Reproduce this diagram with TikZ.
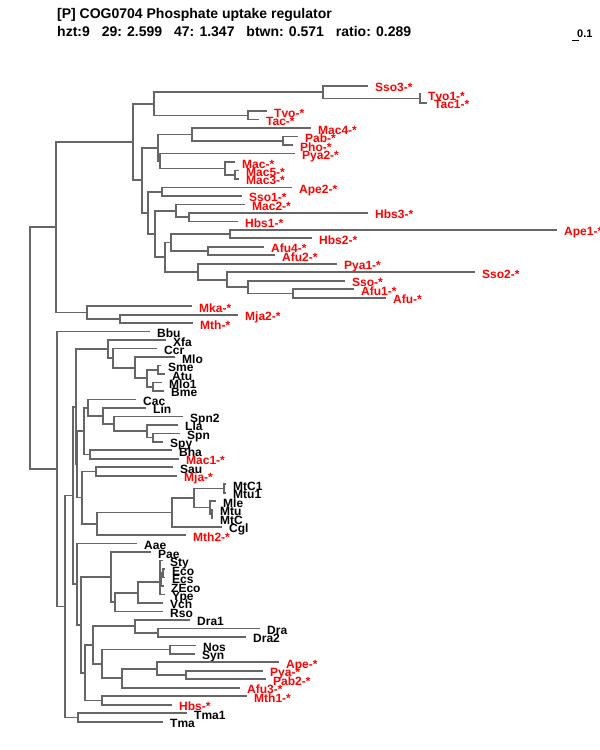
\documentclass[tikz,border=0pt]{standalone}
\usepackage{fontspec}
\setmainfont{Liberation Sans}
\usepackage{tikz}
\usetikzlibrary{positioning}

\tikzset{
	branch/.style={draw=black!60,line width=1.7pt},
	lab/.style={inner sep=0pt,text height=8.6pt,text depth=0pt,font=\fontsize{12}{12}\selectfont\bfseries,yshift=-1.7pt},
	arch/.style={lab,text=red},
	bact/.style={lab,text=black},
	head/.style={inner sep=0pt,anchor=base west,font=\fontsize{14}{14}\selectfont\bfseries},
}

\begin{document}
\begin{tikzpicture}[x=1pt,y=-1pt]
	\useasboundingbox (0,0) rectangle (600,750);
	
	% header
	\node[head] (ttl) at (57,18) {[P] COG0704 Phosphate uptake regulator};
	\node[head] (hzt) at (57,36) {hzt:9};
	\node[head,right=11.5pt of hzt.base east,anchor=base west] (c29) {29: 2.599};
	\node[head,right=11.5pt of c29.base east,anchor=base west] (c47) {47: 1.347};
	\node[head,right=11.5pt of c47.base east,anchor=base west] (btw) {btwn: 0.571};
	\node[head,right=11.5pt of btw.base east,anchor=base west] (rat) {ratio: 0.289};
	
	% scale
	\node[inner sep=0pt,anchor=base west,font=\fontsize{11}{11}\selectfont\bfseries] (sc) at (577,37) {0.1};
	\coordinate (sb0) at (572,40);
	\coordinate (sb1) at (579,40);
	\draw[line width=1pt] (sb0) -- (sb1);
	
	\begin{scope}[yshift=-85.7pt,y=-8.48pt]
		% leaves: tip at (x,row)
		\coordinate (sso3) at (368,0);   \node[arch,right=7pt of sso3] (Lsso3) {Sso3-*};
		\coordinate (tvo1) at (421,1);   \node[arch,right=7pt of tvo1] (Ltvo1) {Tvo1-*};
		\coordinate (tac1) at (427,2);   \node[arch,right=7pt of tac1] (Ltac1) {Tac1-*};
		\coordinate (tvo) at (267,3);    \node[arch,right=7pt of tvo] (Ltvo) {Tvo-*};
		\coordinate (tac) at (259,4);    \node[arch,right=7pt of tac] (Ltac) {Tac-*};
		\coordinate (mac4) at (311,5);   \node[arch,right=7pt of mac4] (Lmac4) {Mac4-*};
		\coordinate (pab) at (298,6);    \node[arch,right=7pt of pab] (Lpab) {Pab-*};
		\coordinate (pho) at (293,7);    \node[arch,right=7pt of pho] (Lpho) {Pho-*};
		\coordinate (pya2) at (295,8);   \node[arch,right=7pt of pya2] (Lpya2) {Pya2-*};
		\coordinate (mac) at (235,9);    \node[arch,right=7pt of mac] (Lmac) {Mac-*};
		\coordinate (mac5) at (239,10);  \node[arch,right=7pt of mac5] (Lmac5) {Mac5-*};
		\coordinate (mac3) at (239,11);  \node[arch,right=7pt of mac3] (Lmac3) {Mac3-*};
		\coordinate (ape2) at (292,12);  \node[arch,right=7pt of ape2] (Lape2) {Ape2-*};
		\coordinate (sso1) at (242,13);  \node[arch,right=7pt of sso1] (Lsso1) {Sso1-*};
		\coordinate (mac2) at (245,14);  \node[arch,right=7pt of mac2] (Lmac2) {Mac2-*};
		\coordinate (hbs3) at (368,15);  \node[arch,right=7pt of hbs3] (Lhbs3) {Hbs3-*};
		\coordinate (hbs1) at (238,16);  \node[arch,right=7pt of hbs1] (Lhbs1) {Hbs1-*};
		\coordinate (ape1) at (557,17);  \node[arch,right=7pt of ape1] (Lape1) {Ape1-*};
		\coordinate (hbs2) at (312,18);  \node[arch,right=7pt of hbs2] (Lhbs2) {Hbs2-*};
		\coordinate (afu4) at (264,19);  \node[arch,right=7pt of afu4] (Lafu4) {Afu4-*};
		\coordinate (afu2) at (275,20);  \node[arch,right=7pt of afu2] (Lafu2) {Afu2-*};
		\coordinate (pya1) at (337,21);  \node[arch,right=7pt of pya1] (Lpya1) {Pya1-*};
		\coordinate (sso2) at (475,22);  \node[arch,right=7pt of sso2] (Lsso2) {Sso2-*};
		\coordinate (sso) at (345,23);   \node[arch,right=7pt of sso] (Lsso) {Sso-*};
		\coordinate (afu1) at (354,24);  \node[arch,right=7pt of afu1] (Lafu1) {Afu1-*};
		\coordinate (afu) at (386,25);   \node[arch,right=7pt of afu] (Lafu) {Afu-*};
		\coordinate (mka) at (192,26);   \node[arch,right=7pt of mka] (Lmka) {Mka-*};
		\coordinate (mja2) at (238,27);  \node[arch,right=7pt of mja2] (Lmja2) {Mja2-*};
		\coordinate (mth) at (193,28);   \node[arch,right=7pt of mth] (Lmth) {Mth-*};
		\coordinate (bbu) at (150,29);   \node[bact,right=7pt of bbu] (Lbbu) {Bbu};
		\coordinate (xfa) at (166,30);   \node[bact,right=7pt of xfa] (Lxfa) {Xfa};
		\coordinate (ccr) at (157,31);   \node[bact,right=7pt of ccr] (Lccr) {Ccr};
		\coordinate (mlo) at (175,32);   \node[bact,right=7pt of mlo] (Lmlo) {Mlo};
		\coordinate (sme) at (161,33);   \node[bact,right=7pt of sme] (Lsme) {Sme};
		\coordinate (atu) at (165,34);   \node[bact,right=7pt of atu] (Latu) {Atu};
		\coordinate (mlo1) at (162,35);  \node[bact,right=7pt of mlo1] (Lmlo1) {Mlo1};
		\coordinate (bme) at (164,36);   \node[bact,right=7pt of bme] (Lbme) {Bme};
		\coordinate (cac) at (136,37);   \node[bact,right=7pt of cac] (Lcac) {Cac};
		\coordinate (lin) at (146,38);   \node[bact,right=7pt of lin] (Llin) {Lin};
		\coordinate (spn2) at (183,39);  \node[bact,right=7pt of spn2] (Lspn2) {Spn2};
		\coordinate (lla) at (178,40);   \node[bact,right=7pt of lla] (Llla) {Lla};
		\coordinate (spn) at (180,41);   \node[bact,right=7pt of spn] (Lspn) {Spn};
		\coordinate (spy) at (163,42);   \node[bact,right=7pt of spy] (Lspy) {Spy};
		\coordinate (bha) at (172,43);   \node[bact,right=7pt of bha] (Lbha) {Bha};
		\coordinate (mac1) at (179,44);  \node[arch,right=7pt of mac1] (Lmac1) {Mac1-*};
		\coordinate (sau) at (173,45);   \node[bact,right=7pt of sau] (Lsau) {Sau};
		\coordinate (mja) at (177,46);   \node[arch,right=7pt of mja] (Lmja) {Mja-*};
		\coordinate (mtc1) at (226,47);  \node[bact,right=7pt of mtc1] (Lmtc1) {MtC1};
		\coordinate (mtu1) at (226,48);  \node[bact,right=7pt of mtu1] (Lmtu1) {Mtu1};
		\coordinate (mle) at (216,49);   \node[bact,right=7pt of mle] (Lmle) {Mle};
		\coordinate (mtu) at (213,50);   \node[bact,right=7pt of mtu] (Lmtu) {Mtu};
		\coordinate (mtc) at (213,51);   \node[bact,right=7pt of mtc] (Lmtc) {MtC};
		\coordinate (cgl) at (222,52);   \node[bact,right=7pt of cgl] (Lcgl) {Cgl};
		\coordinate (mth2) at (186,53);  \node[arch,right=7pt of mth2] (Lmth2) {Mth2-*};
		\coordinate (aae) at (137,54);   \node[bact,right=7pt of aae] (Laae) {Aae};
		\coordinate (pae) at (151,55);   \node[bact,right=7pt of pae] (Lpae) {Pae};
		\coordinate (sty) at (163,56);   \node[bact,right=7pt of sty] (Lsty) {Sty};
		\coordinate (eco) at (165,57);   \node[bact,right=7pt of eco] (Leco) {Eco};
		\coordinate (ecs) at (165,58);   \node[bact,right=7pt of ecs] (Lecs) {Ecs};
		\coordinate (zeco) at (164,59);  \node[bact,right=7pt of zeco] (Lzeco) {ZEco};
		\coordinate (ype) at (165,60);   \node[bact,right=7pt of ype] (Lype) {Ype};
		\coordinate (vch) at (163,61);   \node[bact,right=7pt of vch] (Lvch) {Vch};
		\coordinate (rso) at (163,62);   \node[bact,right=7pt of rso] (Lrso) {Rso};
		\coordinate (dra1) at (190,63);  \node[bact,right=7pt of dra1] (Ldra1) {Dra1};
		\coordinate (dra) at (260,64);   \node[bact,right=7pt of dra] (Ldra) {Dra};
		\coordinate (dra2) at (246,65);  \node[bact,right=7pt of dra2] (Ldra2) {Dra2};
		\coordinate (nos) at (196,66);   \node[bact,right=7pt of nos] (Lnos) {Nos};
		\coordinate (syn) at (195,67);   \node[bact,right=7pt of syn] (Lsyn) {Syn};
		\coordinate (ape) at (279,68);   \node[arch,right=7pt of ape] (Lape) {Ape-*};
		\coordinate (pya) at (263,69);   \node[arch,right=7pt of pya] (Lpya) {Pya-*};
		\coordinate (pab2) at (266,70);  \node[arch,right=7pt of pab2] (Lpab2) {Pab2-*};
		\coordinate (afu3) at (240,71);  \node[arch,right=7pt of afu3] (Lafu3) {Afu3-*};
		\coordinate (mth1) at (247,72);  \node[arch,right=7pt of mth1] (Lmth1) {Mth1-*};
		\coordinate (hbs) at (172,73);   \node[arch,right=7pt of hbs] (Lhbs) {Hbs-*};
		\coordinate (tma1) at (187,74);  \node[bact,right=7pt of tma1] (Ltma1) {Tma1};
		\coordinate (tma) at (163,75);   \node[bact,right=7pt of tma] (Ltma) {Tma};
		
		% inner nodes of the archaeal part
		\coordinate (root) at (30,30.95);
		\coordinate (up) at (56,16.694);
		\coordinate (mk) at (86.7,26.75);
		\coordinate (mjth) at (120,27.5);
		\coordinate (d) at (133.3,6.639);
		\coordinate (t) at (154,2.125);
		\coordinate (s3) at (323,0.75);
		\coordinate (tt1) at (420,1.5);
		\coordinate (tt) at (248,3.5);
		\coordinate (c) at (141.7,11.152);
		\coordinate (a) at (158.3,7.3125);
		\coordinate (a1) at (191.7,5.75);
		\coordinate (pp) at (283.3,6.5);
		\coordinate (b) at (160,8.875);
		\coordinate (mm) at (225,9.75);
		\coordinate (mm2) at (235,10.5);
		\coordinate (e) at (148.3,14.992);
		\coordinate (as) at (161.7,12.5);
		\coordinate (f) at (155,17.484);
		\coordinate (f1) at (175.7,14.75);
		\coordinate (hh) at (189,15.5);
		\coordinate (g) at (165,20.219);
		\coordinate (h) at (171,18.5);
		\coordinate (ah) at (230,17.5);
		\coordinate (aa) at (208.3,19.5);
		\coordinate (i) at (198.3,21.938);
		\coordinate (j) at (227.3,22.875);
		\coordinate (k) at (248.3,23.75);
		\coordinate (l) at (293.3,24.5);
		
		% inner nodes of the lower part
		\coordinate (p) at (56.7,45.21);
		\coordinate (n1) at (65,61.41);
		\coordinate (tm) at (78.3,74.5);
		\coordinate (x) at (73.3,48.327);
		\coordinate (al) at (76,37.859);
		\coordinate (xc) at (107.7,31.063);
		\coordinate (cm) at (112.7,32.125);
		\coordinate (ml) at (135,33.25);
		\coordinate (sm) at (146.7,34.5);
		\coordinate (sa) at (158.3,33.5);
		\coordinate (mb) at (152.7,35.5);
		\coordinate (w) at (77.3,44.656);
		\coordinate (fb) at (84,40.734);
		\coordinate (cl) at (88.3,37.969);
		\coordinate (lsl) at (102.7,38.938);
		\coordinate (sl) at (114.3,39.875);
		\coordinate (ls) at (146.7,40.75);
		\coordinate (ss) at (152.7,41.5);
		\coordinate (bm) at (90,43.5);
		\coordinate (sam) at (81.7,48.578);
		\coordinate (sm2) at (96,45.5);
		\coordinate (am) at (97.3,51.656);
		\coordinate (act) at (171.7,50.313);
		\coordinate (mt) at (194,48.625);
		\coordinate (mtb) at (224,47.5);
		\coordinate (mlm) at (210,49.75);
		\coordinate (mm3) at (211.7,50.5);
		\coordinate (y2) at (77.3,58.795);
		\coordinate (z) at (80.7,63.59);
		\coordinate (q) at (110.7,57.945);
		\coordinate (r) at (115,60.891);
		\coordinate (v) at (138.3,59.781);
		\coordinate (en) at (160,58.563);
		\coordinate (en1) at (160,57.125);
		\coordinate (e2) at (161.5,58.25);
		\coordinate (e3) at (163,57.5);
		\coordinate (dm) at (85,69.234);
		\coordinate (dn) at (92.7,65.969);
		\coordinate (d1) at (135,63.75);
		\coordinate (dd) at (158.3,64.5);
		\coordinate (na) at (101.7,68.188);
		\coordinate (ns) at (170,66.5);
		\coordinate (af) at (121.7,69.875);
		\coordinate (ap) at (156.7,68.75);
		\coordinate (pp2) at (186,69.5);
		\coordinate (mh) at (101.7,72.5);
		
		% branches
		\draw[branch] (root) |- (up) (root) |- (p);
		\draw[branch] (up) |- (d) (up) |- (mk);
		\draw[branch] (mk) |- (mka) (mk) |- (mjth);
		\draw[branch] (mjth) |- (mja2) (mjth) |- (mth);
		\draw[branch] (d) |- (t) (d) |- (c);
		\draw[branch] (t) |- (s3) (t) |- (tt);
		\draw[branch] (s3) |- (sso3) (s3) |- (tt1);
		\draw[branch] (tt1) |- (tvo1) (tt1) |- (tac1);
		\draw[branch] (tt) |- (tvo) (tt) |- (tac);
		\draw[branch] (c) |- (a) (c) |- (e);
		\draw[branch] (a) |- (a1) (a) |- (b);
		\draw[branch] (a1) |- (mac4) (a1) |- (pp);
		\draw[branch] (pp) |- (pab) (pp) |- (pho);
		\draw[branch] (b) |- (pya2) (b) |- (mm);
		\draw[branch] (mm) |- (mac) (mm) |- (mm2);
		\draw[branch] (mm2) |- (mac5) (mm2) |- (mac3);
		\draw[branch] (e) |- (as) (e) |- (f);
		\draw[branch] (as) |- (ape2) (as) |- (sso1);
		\draw[branch] (f) |- (f1) (f) |- (g);
		\draw[branch] (f1) |- (mac2) (f1) |- (hh);
		\draw[branch] (hh) |- (hbs3) (hh) |- (hbs1);
		\draw[branch] (g) |- (h) (g) |- (i);
		\draw[branch] (h) |- (ah) (h) |- (aa);
		\draw[branch] (ah) |- (ape1) (ah) |- (hbs2);
		\draw[branch] (aa) |- (afu4) (aa) |- (afu2);
		\draw[branch] (i) |- (pya1) (i) |- (j);
		\draw[branch] (j) |- (sso2) (j) |- (k);
		\draw[branch] (k) |- (sso) (k) |- (l);
		\draw[branch] (l) |- (afu1) (l) |- (afu);
		
		\draw[branch] (p) |- (bbu) (p) |- (n1);
		\draw[branch] (n1) |- (x) (n1) |- (tm);
		\draw[branch] (tm) |- (tma1) (tm) |- (tma);
		\draw[branch] (x) |- (al) (x) |- (y2);
		\draw[branch] (al) |- (xc) (al) |- (w);
		\draw[branch] (xc) |- (xfa) (xc) |- (cm);
		\draw[branch] (cm) |- (ccr) (cm) |- (ml);
		\draw[branch] (ml) |- (mlo) (ml) |- (sm);
		\draw[branch] (sm) |- (sa) (sm) |- (mb);
		\draw[branch] (sa) |- (sme) (sa) |- (atu);
		\draw[branch] (mb) |- (mlo1) (mb) |- (bme);
		\draw[branch] (w) |- (fb) (w) |- (sam);
		\draw[branch] (fb) |- (cl) (fb) |- (bm);
		\draw[branch] (cl) |- (cac) (cl) |- (lsl);
		\draw[branch] (lsl) |- (lin) (lsl) |- (sl);
		\draw[branch] (sl) |- (spn2) (sl) |- (ls);
		\draw[branch] (ls) |- (lla) (ls) |- (ss);
		\draw[branch] (ss) |- (spn) (ss) |- (spy);
		\draw[branch] (bm) |- (bha) (bm) |- (mac1);
		\draw[branch] (sam) |- (sm2) (sam) |- (am);
		\draw[branch] (sm2) |- (sau) (sm2) |- (mja);
		\draw[branch] (am) |- (act) (am) |- (mth2);
		\draw[branch] (act) |- (mt) (act) |- (cgl);
		\draw[branch] (mt) |- (mtb) (mt) |- (mlm);
		\draw[branch] (mtb) |- (mtc1) (mtb) |- (mtu1);
		\draw[branch] (mlm) |- (mle) (mlm) |- (mm3);
		\draw[branch] (mm3) |- (mtu) (mm3) |- (mtc);
		\draw[branch] (y2) |- (aae) (y2) |- (z);
		\draw[branch] (z) |- (q) (z) |- (dm);
		\draw[branch] (q) |- (pae) (q) |- (r);
		\draw[branch] (r) |- (v) (r) |- (rso);
		\draw[branch] (v) |- (en) (v) |- (vch);
		\draw[branch] (en) |- (en1) (en) |- (ype);
		\draw[branch] (en1) |- (sty) (en1) |- (e2);
		\draw[branch] (e2) |- (e3) (e2) |- (zeco);
		\draw[branch] (e3) |- (eco) (e3) |- (ecs);
		\draw[branch] (dm) |- (dn) (dm) |- (mh);
		\draw[branch] (dn) |- (d1) (dn) |- (na);
		\draw[branch] (d1) |- (dra1) (d1) |- (dd);
		\draw[branch] (dd) |- (dra) (dd) |- (dra2);
		\draw[branch] (na) |- (ns) (na) |- (af);
		\draw[branch] (ns) |- (nos) (ns) |- (syn);
		\draw[branch] (af) |- (ap) (af) |- (afu3);
		\draw[branch] (ap) |- (ape) (ap) |- (pp2);
		\draw[branch] (pp2) |- (pya) (pp2) |- (pab2);
		\draw[branch] (mh) |- (mth1) (mh) |- (hbs);
	\end{scope}
\end{tikzpicture}
\end{document}
